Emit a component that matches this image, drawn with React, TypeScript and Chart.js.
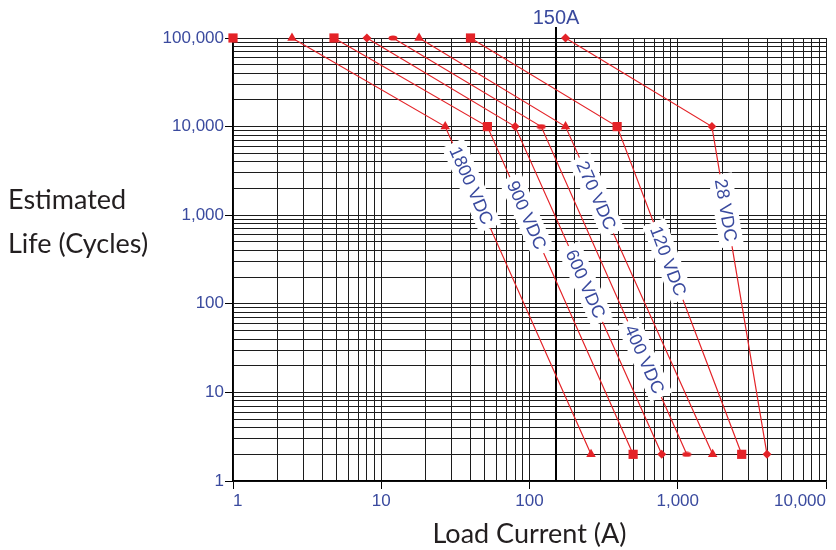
import { useEffect, useRef } from 'react';
import Chart from 'chart.js/auto';

const RED = '#e42328';
const BLUE = '#3a4a9e';
const INK = '#231f20';

// axis decades and the minor steps inside each decade
const X_DECADES = [1, 10, 100, 1000, 10000];
const Y_DECADES = [1, 10, 100, 1000, 10000, 100000];
const MINOR_STEPS = [1, 2, 3, 4, 5, 6, 7, 8, 9];

// life in cycles for the three points of every curve
const CYCLES = [100000, 10000, 2];

// load current (A) for each curve at those cycle counts
const CURRENT_1800 = [2.5, 27, 260];
const CURRENT_900 = [4.8, 52, 500];
const CURRENT_600 = [8, 80, 780];
const CURRENT_400 = [12, 120, 1150];
const CURRENT_270 = [18, 175, 1720];
const CURRENT_120 = [40, 390, 2700];
const CURRENT_28 = [175, 1700, 4000];

const SERIES_LABELS = ['1800 VDC', '900 VDC', '600 VDC', '400 VDC', '270 VDC', '120 VDC', '28 VDC'];
const SERIES_CURRENTS = [CURRENT_1800, CURRENT_900, CURRENT_600, CURRENT_400, CURRENT_270, CURRENT_120, CURRENT_28];
const SERIES_MARKERS = ['triangle', 'rect', 'rectRot', 'ellipse', 'triangle', 'rect', 'rectRot'];

// lone marker in the top-left corner
const CORNER_CURRENT = [1];
const CORNER_CYCLES = [100000];

const RATED_CURRENT = 150;

// where the voltage tag sits along the steep part of each curve (0 = knee, 1 = end)
const TAG_POSITION = [0.18, 0.27, 0.48, 0.71, 0.21, 0.41, 0.255];

const TICK_FONT = '"Liberation Sans", Arial, sans-serif';

function logTicks(decades: number[]) {
  const last = decades[decades.length - 1];
  const out: { value: number; major: boolean }[] = [];
  decades.forEach((d) => {
    MINOR_STEPS.forEach((s) => {
      const v = d * s;
      if (v <= last) out.push({ value: v, major: s === 1 });
    });
  });
  return out;
}

function ellipseMarker() {
  const c = document.createElement('canvas');
  c.width = 10;
  c.height = 6;
  const g = c.getContext('2d')!;
  g.fillStyle = RED;
  g.beginPath();
  g.ellipse(5, 3, 4.5, 2.6, 0, 0, Math.PI * 2);
  g.fill();
  return c;
}

const markerRadius: Record<string, number> = { triangle: 5.5, rect: 6.5, rectRot: 4.5, ellipse: 4 };

const voltageTags = {
  id: 'voltageTags',
  afterDatasetsDraw(chart: any) {
    const { ctx } = chart;
    ctx.save();
    ctx.font = `18px ${TICK_FONT}`;
    SERIES_LABELS.forEach((label, i) => {
      const pts = chart.getDatasetMeta(i).data;
      const a = pts[1];
      const b = pts[2];
      const t = TAG_POSITION[i];
      const x = a.x + (b.x - a.x) * t;
      const y = a.y + (b.y - a.y) * t;
      const angle = Math.atan2(b.y - a.y, b.x - a.x);
      const w = ctx.measureText(label).width;
      ctx.save();
      ctx.translate(x, y);
      ctx.rotate(angle);
      ctx.fillStyle = '#fff';
      ctx.fillRect(-w / 2 - 5, -12, w + 10, 24);
      ctx.fillStyle = BLUE;
      ctx.textAlign = 'center';
      ctx.textBaseline = 'middle';
      ctx.fillText(label, 0, 1);
      ctx.restore();
    });
    ctx.restore();
  },
};

const extras = {
  id: 'extras',
  beforeDatasetsDraw(chart: any) {
    const { ctx, chartArea, scales } = chart;
    const x = Math.round(scales.x.getPixelForValue(RATED_CURRENT));
    ctx.save();
    ctx.strokeStyle = '#000';
    ctx.lineWidth = 2;
    ctx.beginPath();
    ctx.moveTo(x, chartArea.top - 11);
    ctx.lineTo(x, chartArea.bottom);
    ctx.stroke();
    ctx.fillStyle = BLUE;
    ctx.font = `20px ${TICK_FONT}`;
    ctx.textAlign = 'center';
    ctx.textBaseline = 'alphabetic';
    ctx.fillText(`${RATED_CURRENT}A`, x, chartArea.top - 14);
    ctx.fillStyle = INK;
    ctx.font = '27px Lato';
    ctx.textAlign = 'left';
    ctx.fillText('Estimated', 8, 209);
    ctx.fillText('Life (Cycles)', 8, 253);
    ctx.restore();
  },
};

function gridOptions() {
  return {
    color: '#1c1c1c',
    lineWidth: 1,
    tickLength: 8,
    tickColor: (c: any) => (c.tick && c.tick.major ? '#000' : 'rgba(0,0,0,0)'),
  };
}

export default function App() {
  const canvasRef = useRef<HTMLCanvasElement>(null);
  const chartRef = useRef<Chart | null>(null);

  useEffect(() => {
    document.body.style.margin = '0';
    if (!canvasRef.current) return;
    if (chartRef.current) chartRef.current.destroy();

    const ellipse = ellipseMarker();
    const datasets: any[] = SERIES_CURRENTS.map((xs, i) => {
      const style = SERIES_MARKERS[i];
      return {
        label: SERIES_LABELS[i],
        data: xs.map((x, j) => ({ x, y: CYCLES[j] })),
        borderColor: RED,
        backgroundColor: RED,
        borderWidth: 1.2,
        pointStyle: style === 'ellipse' ? ellipse : style,
        pointRadius: markerRadius[style],
        pointBorderWidth: 0,
        pointBackgroundColor: RED,
        clip: false,
      };
    });
    datasets.push({
      label: '',
      data: CORNER_CURRENT.map((x, j) => ({ x, y: CORNER_CYCLES[j] })),
      showLine: false,
      backgroundColor: RED,
      pointBackgroundColor: RED,
      pointStyle: 'rect',
      pointRadius: markerRadius.rect,
      pointBorderWidth: 0,
      clip: false,
    });

    chartRef.current = new Chart(canvasRef.current, {
      type: 'scatter',
      data: { datasets },
      options: {
        animation: false,
        responsive: true,
        maintainAspectRatio: false,
        events: [],
        layout: { padding: { top: 38, right: 10, left: 0, bottom: 0 } },
        plugins: { legend: { display: false }, tooltip: { enabled: false } },
        elements: { line: { tension: 0 } },
        datasets: { scatter: { showLine: true } },
        scales: {
          x: {
            type: 'logarithmic',
            min: 1,
            max: 10000,
            grid: gridOptions(),
            border: { display: true, color: '#000', width: 1.5 },
            ticks: {
              autoSkip: false,
              maxRotation: 0,
              align: 'inner',
              padding: 2,
              color: BLUE,
              font: { family: TICK_FONT, size: 17 },
              callback: (v: any) => (X_DECADES.includes(Number(v)) ? Number(v).toLocaleString('en-US') : ''),
            },
            title: {
              display: true,
              text: 'Load Current (A)',
              color: INK,
              font: { family: 'Lato', size: 27 },
              padding: { top: 0, bottom: 0 },
            },
            afterBuildTicks: (s: any) => {
              s.ticks = logTicks(X_DECADES);
            },
            afterFit: (s: any) => {
              s.height = 69;
              s.paddingLeft = 0;
              s.paddingRight = 0;
            },
          },
          y: {
            type: 'logarithmic',
            min: 1,
            max: 100000,
            grid: gridOptions(),
            border: { display: true, color: '#000', width: 1.5 },
            ticks: {
              autoSkip: false,
              padding: 1,
              color: BLUE,
              font: { family: TICK_FONT, size: 17 },
              callback: (v: any) => (Y_DECADES.includes(Number(v)) ? Number(v).toLocaleString('en-US') : ''),
            },
            afterBuildTicks: (s: any) => {
              s.ticks = logTicks(Y_DECADES);
            },
            afterFit: (s: any) => {
              s.width = 233;
              s.paddingTop = 0;
              s.paddingBottom = 0;
            },
          },
        },
      },
      plugins: [extras, voltageTags],
    });

    return () => {
      chartRef.current?.destroy();
      chartRef.current = null;
    };
  }, []);

  return (
    <div style={{ width: 836, height: 550, position: 'relative', background: '#fff' }}>
      <canvas ref={canvasRef} />
    </div>
  );
}
